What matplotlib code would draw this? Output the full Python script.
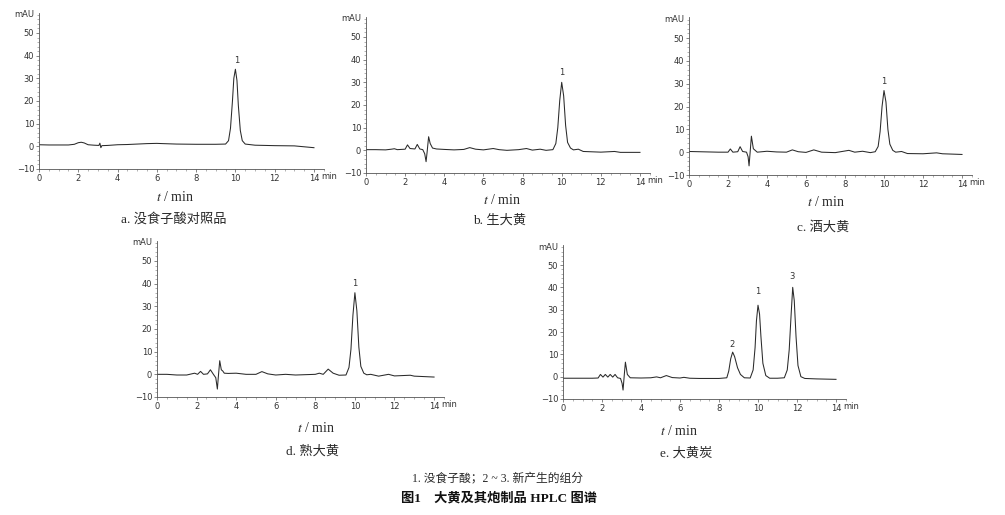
import numpy as np
import matplotlib
matplotlib.use('Agg')
import matplotlib.pyplot as plt
from matplotlib.ticker import MultipleLocator

plt.rcParams['mathtext.fontset'] = 'stix'
CJK = ['Liberation Serif', 'Noto Sans CJK SC']

# retention time (min) and absorbance (mAU)
t_a = [0, 0.5, 1.0, 1.5, 1.8, 2.0, 2.15, 2.3, 2.5, 2.8, 3.05, 3.1, 3.15, 3.2, 3.5, 4.0, 4.5, 5.0,
       5.5, 6.0, 6.3, 7.0, 8.0, 9.0, 9.5, 9.65, 9.75, 9.85, 9.92, 10.0, 10.08, 10.15, 10.25, 10.35,
       10.5, 11.0, 12.0, 13.0, 14.0]
mau_a = [0.7, 0.6, 0.6, 0.6, 0.9, 1.6, 1.8, 1.5, 0.7, 0.5, 0.4, 1.4, -0.6, 0.3, 0.4, 0.7, 0.8, 1.0,
         1.2, 1.3, 1.2, 1.0, 0.9, 0.9, 1.0, 2.5, 8, 20, 30, 34, 29, 18, 7, 2.5,
         1.0, 0.5, 0.3, 0.2, -0.6]

t_b = [0, 0.5, 1.0, 1.3, 1.45, 1.6, 2.0, 2.12, 2.25, 2.5, 2.62, 2.75, 2.9, 3.0, 3.07, 3.12, 3.2,
       3.28, 3.4, 3.6, 4.0, 4.5, 5.0, 5.3, 5.6, 6.0, 6.5, 6.8, 7.2, 7.8, 8.2, 8.5, 8.9, 9.2, 9.55,
       9.7, 9.8, 9.9, 10.0, 10.1, 10.2, 10.3, 10.45, 10.6, 10.85, 11.1, 12.0, 12.7, 13.0, 14.0]
mau_b = [0.3, 0.3, 0.2, 0.5, 0.7, 0.3, 0.5, 2.4, 0.8, 0.6, 2.6, 0.6, 0.3, -1.5, -5.0, -1.0, 6.0,
         3.0, 1.0, 0.6, 0.4, 0.2, 0.4, 1.2, 0.5, 0.2, 0.8, 0.3, 0.0, 0.3, 0.8, 0.1, 0.5, 0.0, 0.3,
         3, 10, 22, 30, 24, 11, 3.5, 1.0, 0.2, 0.5, -0.5, -0.8, -0.5, -0.9, -0.9]

t_c = [0, 0.5, 1.0, 1.5, 2.0, 2.12, 2.25, 2.5, 2.62, 2.75, 2.95, 3.03, 3.08, 3.14, 3.2, 3.3, 3.5,
       4.0, 4.5, 5.0, 5.3, 5.6, 6.0, 6.4, 6.8, 7.5, 8.2, 8.5, 8.9, 9.3, 9.55, 9.7, 9.8, 9.9, 10.0,
       10.1, 10.2, 10.3, 10.45, 10.6, 10.9, 11.2, 12.0, 12.7, 13.0, 14.0]
mau_c = [0.3, 0.2, 0.1, 0.0, 0.0, 1.4, 0.0, 0.2, 2.4, 0.3, 0.0, -2, -6.0, 0.5, 7.0, 1.5, 0.0,
         0.4, 0.1, 0.0, 1.0, 0.2, -0.1, 1.0, 0.0, -0.2, 0.8, 0.0, 0.4, -0.2, 0.2, 2.5, 9, 20, 27,
         22, 10, 3.5, 0.8, 0.0, 0.3, -0.6, -0.7, -0.3, -0.7, -1.0]

t_d = [0, 0.5, 1.0, 1.5, 1.9, 2.05, 2.2, 2.35, 2.55, 2.7, 2.85, 2.97, 3.05, 3.1, 3.17, 3.25, 3.32,
       3.4, 3.6, 4.0, 4.5, 5.0, 5.3, 5.6, 6.0, 6.5, 7.0, 8.0, 8.2, 8.4, 8.65, 8.9, 9.2, 9.55, 9.7,
       9.8, 9.9, 10.0, 10.1, 10.2, 10.3, 10.45, 10.6, 10.8, 11.2, 11.7, 12.0, 12.8, 13.0, 14.0]
mau_d = [0.0, 0.0, -0.3, -0.3, 0.5, 0.0, 1.3, 0.0, 0.2, 2.0, 0.0, -1.5, -6.5, -1.0, 6.0, 2.0, 1.5,
         0.5, 0.4, 0.5, 0.0, 0.0, 1.2, 0.2, -0.3, 0.0, -0.3, 0.0, 0.5, 0.0, 2.3, 0.5, -0.4, -0.3, 3,
         11, 26, 36, 28, 12, 3.5, 0.5, -0.2, 0.0, -0.8, 0.0, -0.7, -0.4, -0.8, -1.2]

t_e = [0, 0.5, 1.0, 1.5, 1.8, 1.92, 2.05, 2.17, 2.3, 2.42, 2.55, 2.67, 2.8, 2.95, 3.03, 3.08, 3.14,
       3.2, 3.3, 3.45, 4.0, 4.5, 4.8, 5.0, 5.3, 5.6, 6.0, 6.2, 6.5, 7.0, 8.0, 8.4, 8.5, 8.6, 8.7,
       8.8, 8.95, 9.1, 9.3, 9.6, 9.75, 9.85, 9.92, 10.0, 10.08, 10.15, 10.25, 10.4, 10.6, 11.0,
       11.35, 11.5, 11.6, 11.7, 11.78, 11.86, 11.95, 12.05, 12.2, 12.4, 13.0, 14.0]
mau_e = [-0.7, -0.7, -0.7, -0.7, -0.6, 1.0, -0.2, 1.0, -0.2, 1.0, -0.2, 1.0, -0.5, -0.8, -3, -6, 0.5,
         6.5, 1.0, -0.5, -0.6, -0.5, -0.1, -0.5, 0.5, -0.4, -0.6, -0.3, -0.7, -0.8, -0.8, -0.5, 2.5, 8, 11,
         9, 4, 1.0, -0.5, -0.6, 3, 13, 25, 32, 28, 18, 6, 0.5, -0.7, -0.7,
         -0.5, 3, 12, 28, 40, 34, 18, 5, 0.0, -0.8, -1.0, -1.2]

# peak labels: (name, time, height of label)
peaks_a = [('1', 10.05, 38)]
peaks_b = [('1', 10.0, 34.5)]
peaks_c = [('1', 10.0, 31)]
peaks_d = [('1', 10.0, 40)]
peaks_e = [('2', 8.65, 14.5), ('1', 9.98, 38), ('3', 11.75, 45)]

captions = ['a. 没食子酸对照品', 'b. 生大黄', 'c. 酒大黄', 'd. 熟大黄', 'e. 大黄炭']
note = '1. 没食子酸；2 ~ 3. 新产生的组分'
title = '图1　大黄及其炮制品 HPLC 图谱'

W, H = 1005, 515
fig = plt.figure(figsize=(W / 100, H / 100), dpi=100)
fig.patch.set_facecolor('white')

ink = '#2a2a2a'


def panel(x0, ppm, yb, ppu, t, v, peaks):
    # x0: pixel of t=0, ppm: px per minute, yb: pixel of -10, ppu: px per mAU
    w = 14.5 * ppm
    h = 69 * ppu
    ax = fig.add_axes([x0 / W, 1 - yb / H, w / W, h / H])
    ax.set_facecolor('none')
    ax.plot(t, v, color=ink, lw=0.75)
    ax.set_xlim(0, 14.5)
    ax.set_ylim(-10, 59)
    for s in ['top', 'right']:
        ax.spines[s].set_visible(False)
    for s in ['left', 'bottom']:
        ax.spines[s].set_color('#555555')
        ax.spines[s].set_linewidth(0.6)
    ax.set_xticks(np.arange(0, 15, 2))
    ax.set_yticks(np.arange(-10, 51, 10))
    ax.xaxis.set_minor_locator(MultipleLocator(0.5))
    ax.yaxis.set_minor_locator(MultipleLocator(2))
    ax.tick_params(which='major', length=2.5, width=0.5, labelsize=6, colors='#555555',
                   labelcolor='#333333', pad=1)
    ax.tick_params(which='minor', length=1.2, width=0.4, colors='#777777')
    ax.text(-0.25, 58, 'mAU', ha='right', va='center', fontsize=6, color='#333333')
    ax.text(14.35, -13.2, 'min', ha='left', va='center', fontsize=6, color='#333333')
    for name, pt, py in peaks:
        ax.text(pt, py, name, ha='center', va='center', fontsize=6, color='#333333')
    return ax


panel(39, 19.64, 169, 2.267, t_a, mau_a, peaks_a)
panel(366, 19.57, 173, 2.267, t_b, mau_b, peaks_b)
panel(689, 19.5, 175, 2.283, t_c, mau_c, peaks_c)
panel(157, 19.79, 397, 2.267, t_d, mau_d, peaks_d)
panel(563, 19.5, 399, 2.233, t_e, mau_e, peaks_e)

# axis titles and captions, pixel centres
xlab_pos = [(175, 197), (502, 200), (826, 202), (316, 428), (679, 431)]
cap_pos = [(174, 219), (500, 221), (823, 227), (313, 451), (686, 454)]
for (x, y) in xlab_pos:
    fig.text(x / W, 1 - y / H, '$t$ / min', ha='center', va='center', fontsize=10,
             family='Liberation Serif', color=ink)
for cap, (x, y) in zip(captions, cap_pos):
    fig.text(x / W, 1 - y / H, cap, ha='center', va='center', fontsize=9.5,
             family=CJK, color=ink)

fig.text(497 / W, 1 - 478 / H, note, ha='center', va='center', fontsize=8.5,
         family=CJK, color=ink)
fig.text(499 / W, 1 - 498 / H, title, ha='center', va='center', fontsize=9.5,
         family=CJK, fontweight='bold', color='#111111')

fig.savefig('out.png', dpi=100)
